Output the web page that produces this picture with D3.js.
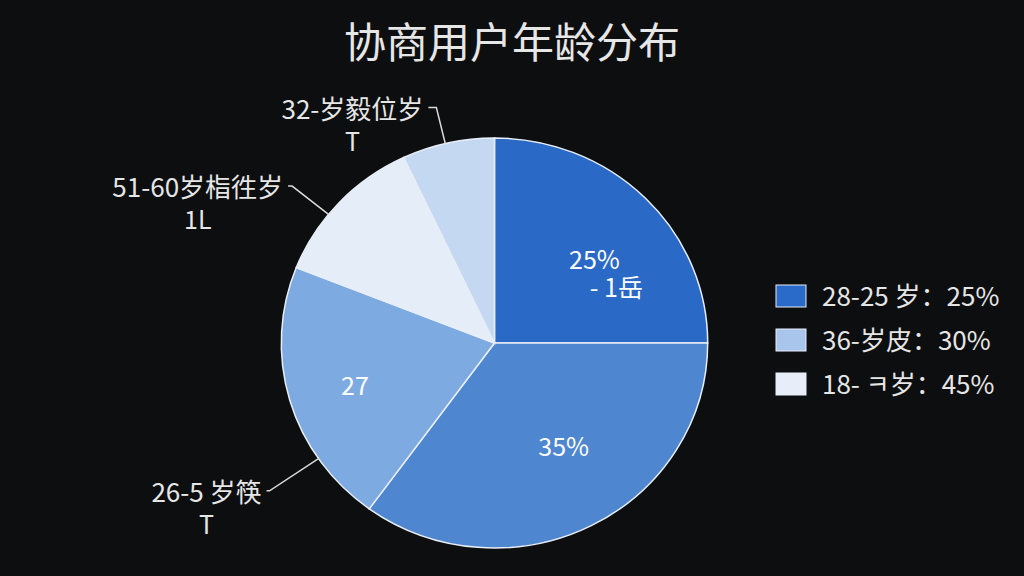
<!DOCTYPE html>
<html>
<head>
<meta charset="utf-8">
<script src="https://cdn.jsdelivr.net/npm/d3@7"></script>
<style>
  html, body { margin: 0; padding: 0; background: #0d0e10; }
  svg { display: block; }
  text { font-family: "Noto Sans CJK SC", "Noto Sans", sans-serif; }
</style>
</head>
<body>
<div id="chart"></div>
<script>
// data (clockwise from 12 o'clock)
var sliceNames = ["28-25 岁", "36-岁皮", "26-5 岁筷", "51-60岁栺徃岁", "32-岁毅位岁"];
var sliceValues = [25, 35, 21, 12, 7];
var innerLabels = [["25%", "- 1岳"], ["35%"], ["27"], [], []];
var outerLabels = [[], [], ["26-5 岁筷", "T"], ["51-60岁栺徃岁", "1L"], ["32-岁毅位岁", "T"]];
var legendLabels = ["28-25 岁：25%", "36-岁皮：30%", "18- ㅋ岁：45%"];
var titleText = "协商用户年龄分布";

var sliceColors = ["#2b69c6", "#4f86d0", "#7eaae2", "#e5edf9", "#c5d8f2"];
var legendColors = ["#2a6ac8", "#a9c5ec", "#e7eefa"];

var svgWidth = 1024, svgHeight = 576;
var cx = 494.5, cy = 343, radius = 205, sx = 1.04;

var svg = d3.select("#chart").append("svg")
    .attr("width", svgWidth)
    .attr("height", svgHeight);

svg.append("rect")
    .attr("width", svgWidth)
    .attr("height", svgHeight)
    .attr("fill", "#0d0e10");

// title
svg.append("text")
    .attr("x", 512)
    .attr("y", 58)
    .attr("text-anchor", "middle")
    .attr("font-size", "42px")
    .attr("fill", "#e6e6e6")
    .text(titleText);

var pie = d3.pie().sort(null).value(d => d);
var arcs = pie(sliceValues);

var arc = d3.arc().innerRadius(0).outerRadius(radius);

// point on the (slightly wide) pie at angle a, distance r
function pt(a, r) {
    return [sx * r * Math.sin(a), -r * Math.cos(a)];
}

var pieGroup = svg.append("g")
    .attr("transform", `translate(${cx}, ${cy})`);

pieGroup.append("g")
    .attr("transform", `scale(${sx}, 1)`)
    .selectAll("path")
    .data(arcs)
    .enter()
    .append("path")
    .attr("d", arc)
    .attr("fill", (d, i) => sliceColors[i])
    .attr("stroke", "#e8eef8")
    .attr("stroke-width", 1.5)
    .attr("vector-effect", "non-scaling-stroke");

// labels inside the slices
var innerRadiusFrac = [0.57, 0.57, 0.75, 0.6, 0.6];
var innerLineOffset = [[14, 9], [36, 37]];
arcs.forEach(function (d, i) {
    var lines = innerLabels[i];
    if (!lines.length) return;
    var p = pt((d.startAngle + d.endAngle) / 2, radius * innerRadiusFrac[i]);
    lines.forEach(function (t, j) {
        pieGroup.append("text")
            .attr("x", p[0] + innerLineOffset[j][0])
            .attr("y", p[1] + innerLineOffset[j][1])
            .attr("text-anchor", "middle")
            .attr("font-size", "25px")
            .attr("fill", "#ffffff")
            .text(t);
    });
});

// outer labels with leader lines
var outerLayout = [null, null,
    { frac: 0.26, elbowR: 262, tick: 3 },
    { frac: 0.4, elbowR: 250, tick: 4 },
    { frac: 0.47, elbowR: 242, tick: 8 }];

arcs.forEach(function (d, i) {
    var lines = outerLabels[i];
    if (!lines.length) return;
    var lay = outerLayout[i];
    var ang = d.startAngle + (d.endAngle - d.startAngle) * lay.frac;
    var p0 = pt(ang, radius);
    var p1 = pt(ang, lay.elbowR);
    var p2 = [p1[0] - lay.tick, p1[1]];
    pieGroup.append("path")
        .attr("d", d3.line()([p0, p1, p2]))
        .attr("fill", "none")
        .attr("stroke", "#d9d9d9")
        .attr("stroke-width", 1.5);
    var tx = p2[0] - 5;
    var first = pieGroup.append("text")
        .attr("x", tx)
        .attr("y", p2[1] + 11)
        .attr("text-anchor", "end")
        .attr("font-size", "26px")
        .attr("fill", "#e6e6e6")
        .text(lines[0]);
    var w = first.node().getComputedTextLength();
    pieGroup.append("text")
        .attr("x", tx - w / 2)
        .attr("y", p2[1] + 43)
        .attr("text-anchor", "middle")
        .attr("font-family", "'Liberation Sans', sans-serif")
        .attr("font-size", "25px")
        .attr("fill", "#e6e6e6")
        .text(lines[1]);
});

// legend
var legendY = d3.scaleBand()
    .domain(legendLabels)
    .range([274, 406]);

var legend = svg.append("g")
    .selectAll("g")
    .data(legendLabels)
    .enter()
    .append("g")
    .attr("transform", d => `translate(776, ${legendY(d) + legendY.bandwidth() / 2})`);

legend.append("rect")
    .attr("x", 0)
    .attr("y", -11)
    .attr("width", 30)
    .attr("height", 22)
    .attr("fill", (d, i) => legendColors[i])
    .attr("stroke", "#e8eef8")
    .attr("stroke-width", 1);

legend.append("text")
    .attr("x", 46)
    .attr("y", 10)
    .attr("font-size", "26px")
    .attr("fill", "#e6e6e6")
    .text(d => d);
</script>
</body>
</html>
